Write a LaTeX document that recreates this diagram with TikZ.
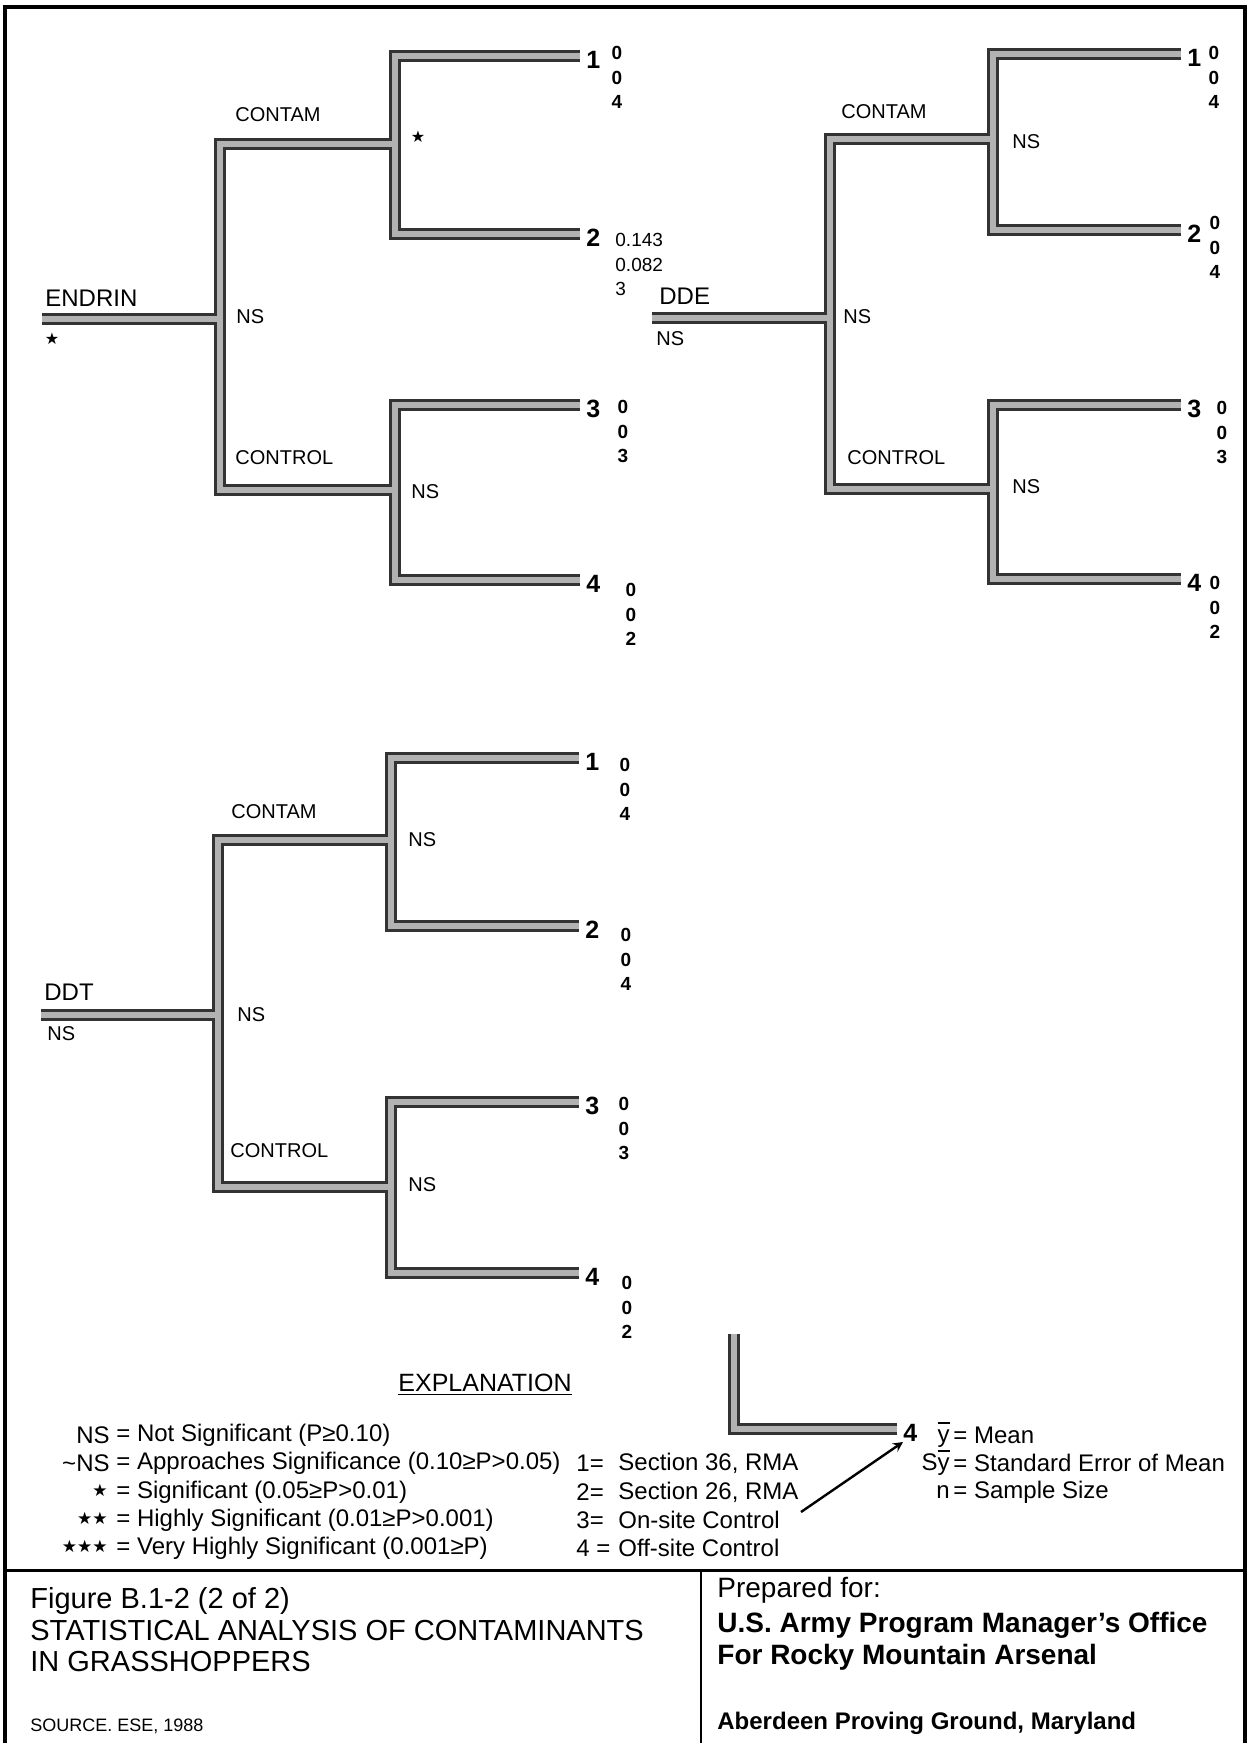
\documentclass[tikz,border=0pt]{standalone}
\usepackage{fontspec}
\setmainfont{Liberation Sans}
\newfontfamily\symfont{DejaVu Sans}
\newcommand{\ymean}{\leavevmode\rlap{\raisebox{0.8em}{\rule{0.5em}{0.07em}}}y}
\begin{document}
\begin{tikzpicture}[x=0.5pt,y=-0.5pt,>=stealth,
  barout/.style={line width=6pt,draw=black!80},
  barin/.style={line width=3.4pt,draw=gray!60},
  lab/.style={anchor=west,inner sep=0pt,font=\fontsize{10}{12}\selectfont},
  chem/.style={anchor=west,inner sep=0pt,font=\fontsize{12}{14}\selectfont},
  leafno/.style={anchor=west,inner sep=0pt,xshift=3pt,yshift=-2pt,font=\bfseries\fontsize{12.5}{14}\selectfont},
  vals/.style={anchor=north,inner sep=0pt,align=center,font=\bfseries\fontsize{9.5}{12.3}\selectfont},
  star/.style={inner sep=0pt,font=\symfont\fontsize{8}{8}\selectfont},
  leg/.style={anchor=west,inner sep=0pt,font=\fontsize{12}{14}\selectfont},
  legstar/.style={anchor=east,inner sep=0pt,font=\symfont\fontsize{8.5}{8.5}\selectfont}]
\useasboundingbox (0,0) rectangle (1250,1743);

\draw[line width=2pt] (5,1743) -- (5,7) -- (1245,7) -- (1245,1743);
\draw[line width=1.5pt] (5,1570) -- (1245,1570);
\draw[line width=1pt] (701,1570) -- (701,1743);

\coordinate (enr) at (42,319);
\coordinate (ent) at (220,319);
\coordinate (ena) at (395,144);
\coordinate (enb) at (395,490);
\coordinate (en1) at (580,56);
\coordinate (en2) at (580,234);
\coordinate (en3) at (580,405);
\coordinate (en4) at (580,580);

\coordinate (der) at (652,318);
\coordinate (det) at (830,318);
\coordinate (dea) at (993,139);
\coordinate (deb) at (993,489);
\coordinate (de1) at (1181,54);
\coordinate (de2) at (1181,230);
\coordinate (de3) at (1181,405);
\coordinate (de4) at (1181,579);

\coordinate (dtr) at (41,1015);
\coordinate (dtt) at (218,1015);
\coordinate (dta) at (391,840);
\coordinate (dtb) at (391,1187);
\coordinate (dt1) at (579,758);
\coordinate (dt2) at (579,926);
\coordinate (dt3) at (579,1102);
\coordinate (dt4) at (579,1273);

\coordinate (lgt) at (734,1334);
\coordinate (lge) at (897,1429);

\foreach \s in {barout,barin}{
  \draw[\s] (enr) -- (ent);
  \draw[\s] (ena) -| (ent) |- (enb);
  \draw[\s] (en1) -| (ena) |- (en2);
  \draw[\s] (en3) -| (enb) |- (en4);
  \draw[\s] (der) -- (det);
  \draw[\s] (dea) -| (det) |- (deb);
  \draw[\s] (de1) -| (dea) |- (de2);
  \draw[\s] (de3) -| (deb) |- (de4);
  \draw[\s] (dtr) -- (dtt);
  \draw[\s] (dta) -| (dtt) |- (dtb);
  \draw[\s] (dt1) -| (dta) |- (dt2);
  \draw[\s] (dt3) -| (dtb) |- (dt4);
  \draw[\s] (lgt) |- (lge);
}

\node[chem] (enname) at (45,298) {ENDRIN};
\node[star] (enst) at (52,339) {★};
\node[lab] (enns) at (236,317) {NS};
\node[lab] (enca) at (235,115) {CONTAM};
\node[star] (enst2) at (418,137) {★};
\node[lab] (enco) at (235,458) {CONTROL};
\node[lab] (ennsb) at (411,492) {NS};
\node[leafno] (enl1) at (en1) {1};
\node[leafno] (enl2) at (en2) {2};
\node[leafno] (enl3) at (en3) {3};
\node[leafno] (enl4) at (en4) {4};
\node[vals] (env1) at (617,46) {0\\0\\4};
\node[vals,align=left,anchor=north west,font=\fontsize{9.5}{12.3}\selectfont] (env2) at (615,233) {0.143\\0.082\\3};
\node[vals] (env3) at (623,400) {0\\0\\3};
\node[vals] (env4) at (631,583) {0\\0\\2};

\node[chem] (dename) at (659,296) {DDE};
\node[lab] (dens0) at (656,339) {NS};
\node[lab] (dens) at (843,317) {NS};
\node[lab] (deca) at (841,112) {CONTAM};
\node[lab] (densa) at (1012,142) {NS};
\node[lab] (deco) at (847,458) {CONTROL};
\node[lab] (densb) at (1012,487) {NS};
\node[leafno] (del1) at (de1) {1};
\node[leafno] (del2) at (de2) {2};
\node[leafno] (del3) at (de3) {3};
\node[leafno] (del4) at (de4) {4};
\node[vals] (dev1) at (1214,46) {0\\0\\4};
\node[vals] (dev2) at (1215,216) {0\\0\\4};
\node[vals] (dev3) at (1222,401) {0\\0\\3};
\node[vals] (dev4) at (1215,576) {0\\0\\2};

\node[chem] (dtname) at (44,992) {DDT};
\node[lab] (dtns0) at (47,1034) {NS};
\node[lab] (dtns) at (237,1015) {NS};
\node[lab] (dtca) at (231,812) {CONTAM};
\node[lab] (dtnsa) at (408,840) {NS};
\node[lab] (dtco) at (230,1151) {CONTROL};
\node[lab] (dtnsb) at (408,1185) {NS};
\node[leafno] (dtl1) at (dt1) {1};
\node[leafno] (dtl2) at (dt2) {2};
\node[leafno] (dtl3) at (dt3) {3};
\node[leafno] (dtl4) at (dt4) {4};
\node[vals] (dtv1) at (625,758) {0\\0\\4};
\node[vals] (dtv2) at (626,928) {0\\0\\4};
\node[vals] (dtv3) at (624,1097) {0\\0\\3};
\node[vals] (dtv4) at (627,1276) {0\\0\\2};

\node[font=\fontsize{12.5}{14}\selectfont] (expl) at (485,1385) {\underline{EXPLANATION}};
\node[leafno] (lg4) at (lge) {4};
\coordinate (atail) at (801,1512);
\draw[->,line width=1.2pt] (atail) -- (lg4.south west);

\node[leg,anchor=east] (k1) at (110,1435) {NS};
\node[leg] (d1) at (116,1435) {= Not Significant (P≥0.10)};
\node[leg,anchor=east] (k2) at (110,1463) {\textasciitilde NS};
\node[leg] (d2) at (116,1463) {= Approaches Significance (0.10≥P>0.05)};
\node[legstar] (k3) at (108,1490) {★};
\node[leg] (d3) at (116,1492) {= Significant (0.05≥P>0.01)};
\node[legstar] (k4) at (108,1518) {★★};
\node[leg] (d4) at (116,1520) {= Highly Significant (0.01≥P>0.001)};
\node[legstar] (k5) at (108,1546) {★★★};
\node[leg] (d5) at (116,1548) {= Very Highly Significant (0.001≥P)};

\node[leg] (m1) at (576,1463) {1=};
\node[leg] (s1) at (618,1463) {Section 36, RMA};
\node[leg] (m2) at (576,1492) {2=};
\node[leg] (s2) at (618,1492) {Section 26, RMA};
\node[leg] (m3) at (576,1520) {3=};
\node[leg] (s3) at (618,1520) {On-site Control};
\node[leg] (m4) at (576,1548) {4 =};
\node[leg] (s4) at (618,1548) {Off-site Control};

\node[leg,anchor=east] (r1) at (950,1435) {\ymean};
\node[leg] (t1) at (953,1435) {= Mean};
\node[leg,anchor=east] (r2) at (950,1463) {S\ymean};
\node[leg] (t2) at (953,1463) {= Standard Error of Mean};
\node[leg,anchor=east] (r3) at (950,1492) {n};
\node[leg] (t3) at (953,1492) {= Sample Size};

\node[leg,font=\fontsize{14.5}{16}\selectfont] (fig) at (30,1601) {Figure B.1-2 (2 of 2)};
\node[leg,font=\fontsize{14.5}{16}\selectfont] (ttl1) at (30,1630) {STATISTICAL ANALYSIS OF CONTAMINANTS};
\node[leg,font=\fontsize{14.5}{16}\selectfont] (ttl2) at (30,1661) {IN GRASSHOPPERS};
\node[leg,font=\fontsize{9}{10}\selectfont] (src) at (30,1726) {SOURCE. ESE, 1988};
\node[leg,font=\fontsize{14}{16}\selectfont] (prep) at (717,1590) {Prepared for:};
\node[leg,font=\bfseries\fontsize{14}{16}\selectfont] (org1) at (717,1625) {U.S. Army Program Manager's Office};
\node[leg,font=\bfseries\fontsize{14}{16}\selectfont] (org2) at (717,1657) {For Rocky Mountain Arsenal};
\node[leg,font=\bfseries\fontsize{12}{14}\selectfont] (loc) at (717,1723) {Aberdeen Proving Ground, Maryland};
\end{tikzpicture}
\end{document}
